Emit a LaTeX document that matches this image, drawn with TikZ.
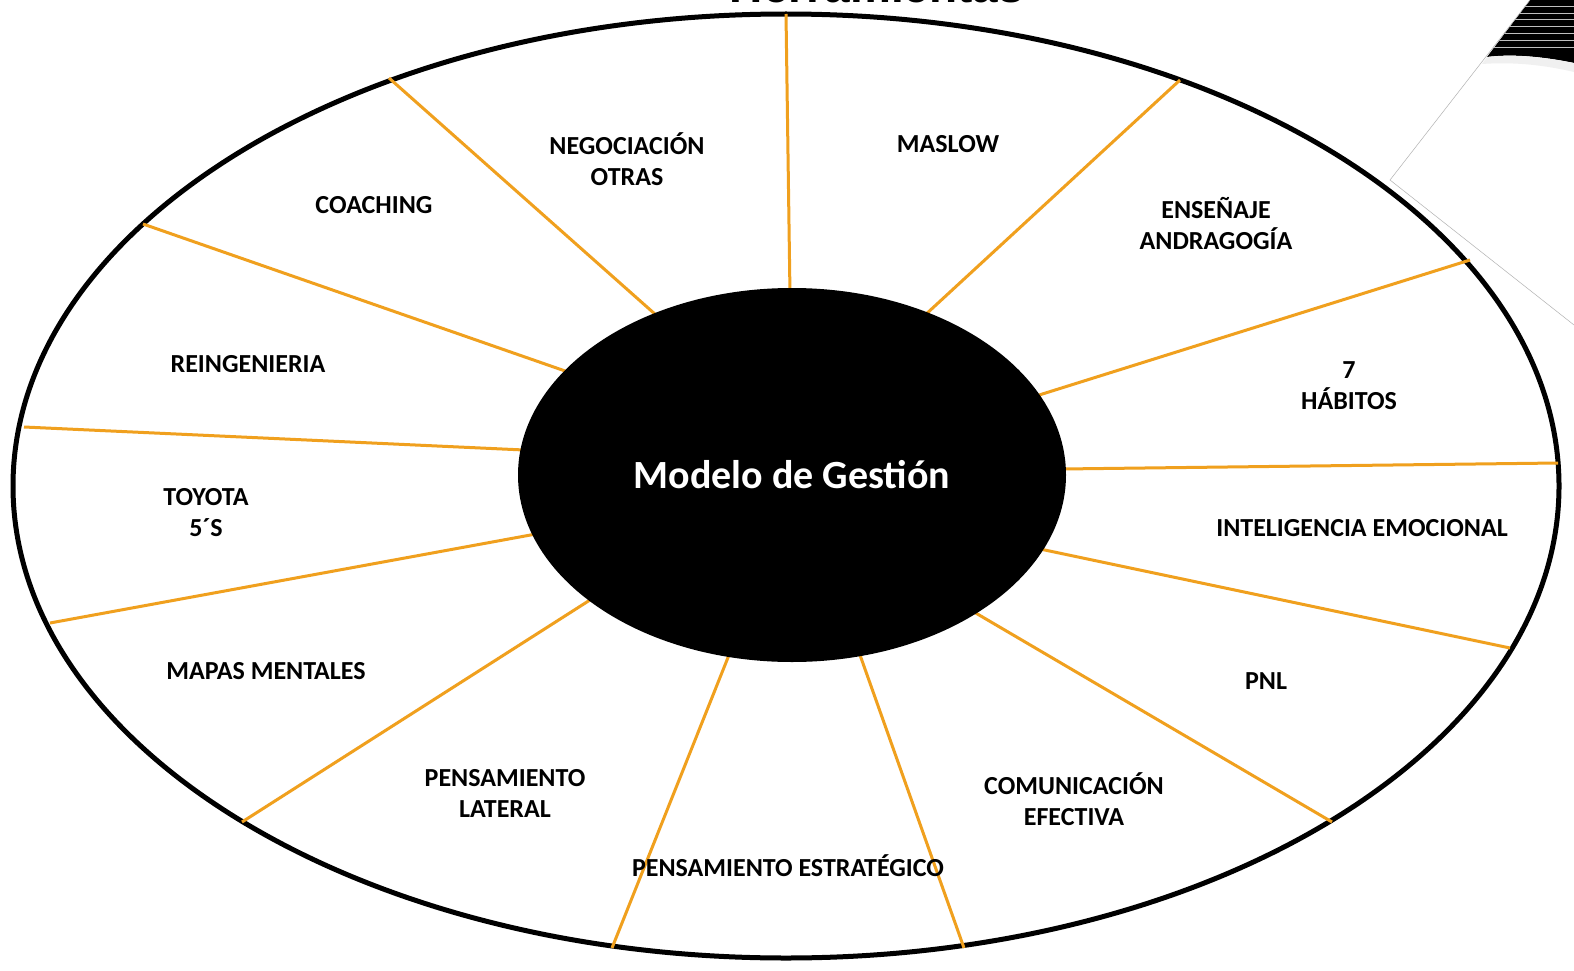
\documentclass[tikz,border=0pt]{standalone}
\usepackage{fontspec}
\usetikzlibrary{shapes.geometric}
\setmainfont{Carlito}
\newfontfamily\titlefont{Liberation Sans}
\definecolor{spoke}{HTML}{F0A01E}
\begin{document}
\begin{tikzpicture}[x=1pt,y=-1pt,
  spokeline/.style={draw=spoke,line width=3pt},
  lbl/.style={font=\fontsize{26}{31}\selectfont\bfseries,align=center,inner sep=0pt}]
\useasboundingbox[fill=white] (0,0) rectangle (1574,971);
% scanned corner artifact
\begin{scope}
\clip (1530,0) -- (1574,0) -- (1574,63) .. controls (1540,56) and (1510,54) .. (1487,57) -- cycle;
\fill[black] (1480,0) rectangle (1574,70);
\foreach \yy in {6,13,19,26,33,40,47} {\draw[white!75!black,line width=0.7pt] (1480,\yy) -- (1574,\yy);}
\end{scope}
\fill[black!6] (1487,57) .. controls (1510,54) and (1540,56) .. (1574,63) -- (1574,72) .. controls (1540,64) and (1510,62) .. (1482,64) -- cycle;
\draw[gray!60,line width=0.5pt] (1530,0) -- (1390,180) -- (1574,325);
% title (cut off at top)
\node[anchor=base,inner sep=0pt,font=\titlefont\fontsize{46}{50}\selectfont\bfseries] (title) at (877,3) {Herramientas};
% ellipses
\node[draw=black,line width=5pt,ellipse,minimum width=1546pt,minimum height=944pt,inner sep=0pt] (outer) at (786,486) {};
\coordinate (o1) at (786,14);
\coordinate (o2) at (1180,80);
\coordinate (o3) at (1470,260);
\coordinate (o4) at (1558,463);
\coordinate (o5) at (1510,648);
\coordinate (o6) at (1332,822);
\coordinate (o7) at (964,948);
\coordinate (o8) at (612,948);
\coordinate (o9) at (242,822);
\coordinate (o10) at (50,623);
\coordinate (o11) at (24,427);
\coordinate (o12) at (143,224);
\coordinate (o13) at (389,78);
\coordinate (i1) at (790,295);
\coordinate (i2) at (924,316);
\coordinate (i3) at (1036,396);
\coordinate (i4) at (1062,469);
\coordinate (i5) at (1040,549);
\coordinate (i6) at (974,612);
\coordinate (i7) at (860,655);
\coordinate (i8) at (729,655);
\coordinate (i9) at (590,600);
\coordinate (i10) at (536,534);
\coordinate (i11) at (524,450);
\coordinate (i12) at (568,372);
\coordinate (i13) at (656,315);
\foreach \k in {1,...,13} {\draw[spokeline] (o\k) -- (i\k);}
\node[fill=black,ellipse,minimum width=548pt,minimum height=374pt,inner sep=0pt,text=white,font=\fontsize{40}{44}\selectfont\bfseries] (center) at (792,475) {Modelo de Gestión};
% labels
\node[lbl] (l1) at (627,159) {NEGOCIACIÓN\\OTRAS};
\node[lbl] (l2) at (948,144) {MASLOW};
\node[lbl] (l3) at (1216,224) {ENSEÑAJE\\ANDRAGOGÍA};
\node[lbl] (l4) at (374,205) {COACHING};
\node[lbl] (l5) at (248,364) {REINGENIERIA};
\node[lbl] (l6) at (1349,386) {7\\HÁBITOS};
\node[lbl] (l7) at (206,513) {TOYOTA\\5´S};
\node[lbl] (l8) at (1362,528) {INTELIGENCIA EMOCIONAL};
\node[lbl] (l9) at (266,671) {MAPAS MENTALES};
\node[lbl] (l10) at (1266,681) {PNL};
\node[lbl] (l11) at (505,793) {PENSAMIENTO\\LATERAL};
\node[lbl] (l12) at (1074,799) {COMUNICACIÓN\\EFECTIVA};
\node[lbl] (l13) at (788,866) {PENSAMIENTO ESTRATÉGICO};
\end{tikzpicture}
\end{document}
